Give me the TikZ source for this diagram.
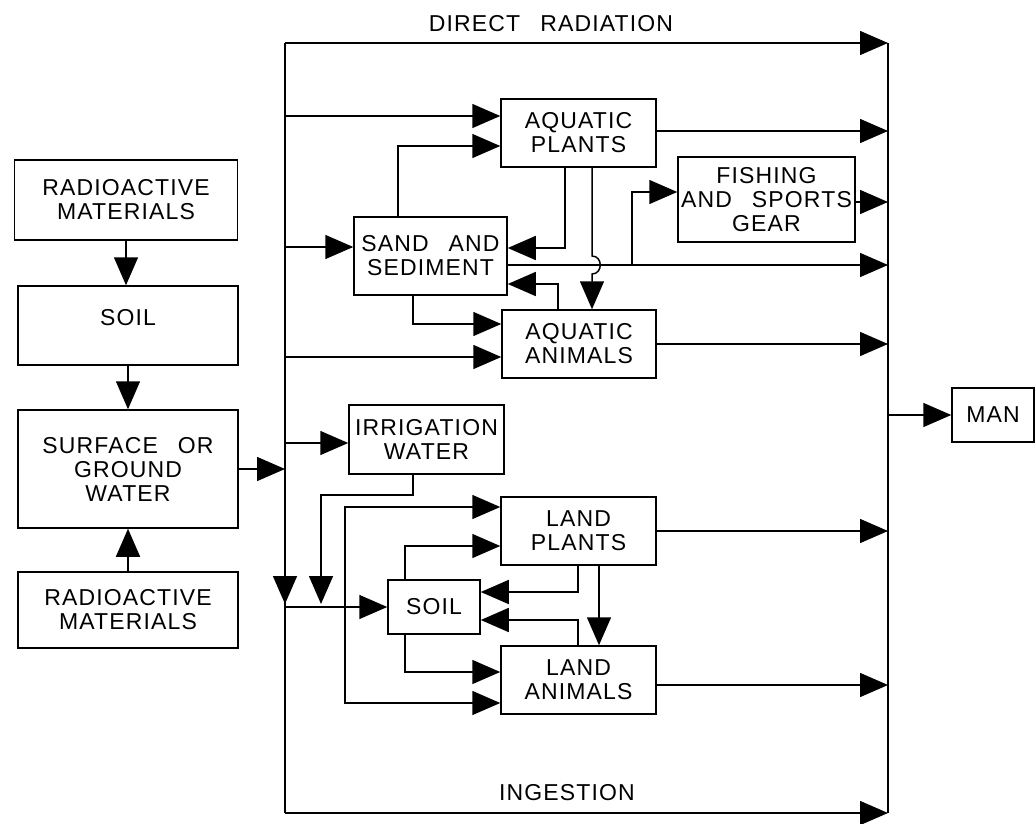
\documentclass[tikz,border=0pt]{standalone}
\usepackage{fontspec}
\setmainfont{Liberation Sans}[LetterSpace=5]
\usetikzlibrary{arrows.meta}
\newcommand\ws{\hspace{20pt}}
\begin{document}
\begin{tikzpicture}[x=1pt,y=-1pt,
  txt/.style={inner sep=0pt,align=center,font=\fontsize{23}{24}\selectfont},
  box/.style={txt,draw,line width=1.5pt},
  link/.style={line width=1.5pt,-{Triangle[length=28pt,width=24pt]}},
  wire/.style={line width=1.5pt}]
\fill[white] (0,0) rectangle (1036,824);
\useasboundingbox (0,0) rectangle (1036,824);

% left column
\node[box,minimum width=223pt,minimum height=80pt] (rm1) at (126,200) {RADIOACTIVE\\MATERIALS};
\node[box,minimum width=220pt,minimum height=79pt,text depth=16pt] (soil1) at (128,325.5) {SOIL};
\node[box,minimum width=220pt,minimum height=118pt] (sgw) at (128,469) {SURFACE\ws OR\\GROUND\\WATER};
\node[box,minimum width=220pt,minimum height=76pt] (rm2) at (128,610) {RADIOACTIVE\\MATERIALS};

% aquatic part
\node[box,minimum width=155pt,minimum height=68pt] (ap) at (578.5,133) {AQUATIC\\PLANTS};
\node[box,minimum width=153pt,minimum height=78pt] (ss) at (430.5,256) {SAND\ws AND\\SEDIMENT};
\node[box,minimum width=154pt,minimum height=68pt] (aa) at (579,344) {AQUATIC\\ANIMALS};
\node[box,minimum width=177pt,minimum height=85pt] (fish) at (766.5,199.5) {FISHING\\AND\ws SPORTS\\GEAR};

% land part
\node[box,minimum width=155pt,minimum height=69pt] (iw) at (426.5,439.5) {IRRIGATION\\WATER};
\node[box,minimum width=155pt,minimum height=68pt] (lp) at (578.5,531) {LAND\\PLANTS};
\node[box,minimum width=92pt,minimum height=54pt] (soil2) at (434,607) {SOIL};
\node[box,minimum width=82pt,minimum height=54pt] (man) at (993,415) {MAN};
\node[box,minimum width=155pt,minimum height=68pt] (la) at (578.5,680) {LAND\\ANIMALS};

% labels
\node[txt] (dr) at (551,24) {DIRECT\ws RADIATION};
\node[txt] (ing) at (567,793) {INGESTION};

% buses
\coordinate (busT) at (285,43);
\coordinate (busB) at (285,813);
\coordinate (rbT) at (888,43);
\coordinate (rbB) at (888,813);
\draw[wire] (busT) -- (busB);
\draw[wire] (rbT) -- (rbB);
\draw[link] (busT) -- (rbT);
\draw[link] (busB) -- (rbB);
\draw[link] (rbT |- man.west) -- (man.west);

% left column arrows
\draw[link] (rm1.south) -- (rm1.south |- soil1.north);
\draw[link] (soil1.south) -- (soil1.south |- sgw.north);
\draw[link] (rm2.north) -- (rm2.north |- sgw.south);
\draw[link] (sgw.east) -- (busT |- sgw.east);

% aquatic connectors
\draw[link] (285,116) -- ([yshift=17pt]ap.west);
\draw[link] ([xshift=-32.5pt]ss.north) |- ([yshift=-13pt]ap.west);
\draw[link] ([xshift=-13.5pt]ap.south) |- ([yshift=8pt]ss.east);
\draw[link] ([xshift=13.5pt]ap.south) -- (592,256) .. controls (603,256) and (603,274) .. (592,274) -- ([xshift=13pt]aa.north);
\draw[link] ([xshift=-21pt]aa.north) |- ([yshift=-28pt]ss.east);
\draw[link] ([xshift=-17.5pt]ss.south) |- ([yshift=20pt]aa.west);
\draw[link] (285,357) -- ([yshift=-13pt]aa.west);
\draw[link] (285,247) -- ([yshift=9pt]ss.west);
\draw[link] ([yshift=-9pt]ss.east) -- (888,265);
\coordinate (fj) at (632,265);
\draw[link] (fj) |- ([yshift=7.5pt]fish.west);
\draw[link] ([yshift=-2.5pt]fish.east) -- (888,202);
\draw[link] ([yshift=2pt]ap.east) -- (888,131);
\draw[link] (aa.east) -- (888,344);

% land connectors
\draw[link] (285,443) -- ([yshift=-3.5pt]iw.west);
\draw[link] ([xshift=-13.5pt]iw.south) -- (413,495) -| (321,604);
\draw[link] (285,560) -- (285,604);
\draw[link] (busT |- soil2.west) -- (soil2.west);
\coordinate (lj) at (345,607);
\draw[link] (lj) |- ([yshift=24pt]lp.west);
\draw[link] (lj) |- ([yshift=-23pt]la.west);
\draw[link] ([xshift=-29pt]soil2.north) |- ([yshift=-15pt]lp.west);
\draw[link] ([xshift=-0.5pt]lp.south) |- ([yshift=15pt]soil2.east);
\draw[link] ([xshift=20.5pt]lp.south) -- ([xshift=20.5pt]la.north);
\draw[link] ([xshift=-0.5pt]la.north) |- ([yshift=-13pt]soil2.east);
\draw[link] ([xshift=-29pt]soil2.south) |- ([yshift=8pt]la.west);
\draw[link] (lp.east) -- (888,531);
\draw[link] ([yshift=-5pt]la.east) -- (888,685);
\end{tikzpicture}
\end{document}
